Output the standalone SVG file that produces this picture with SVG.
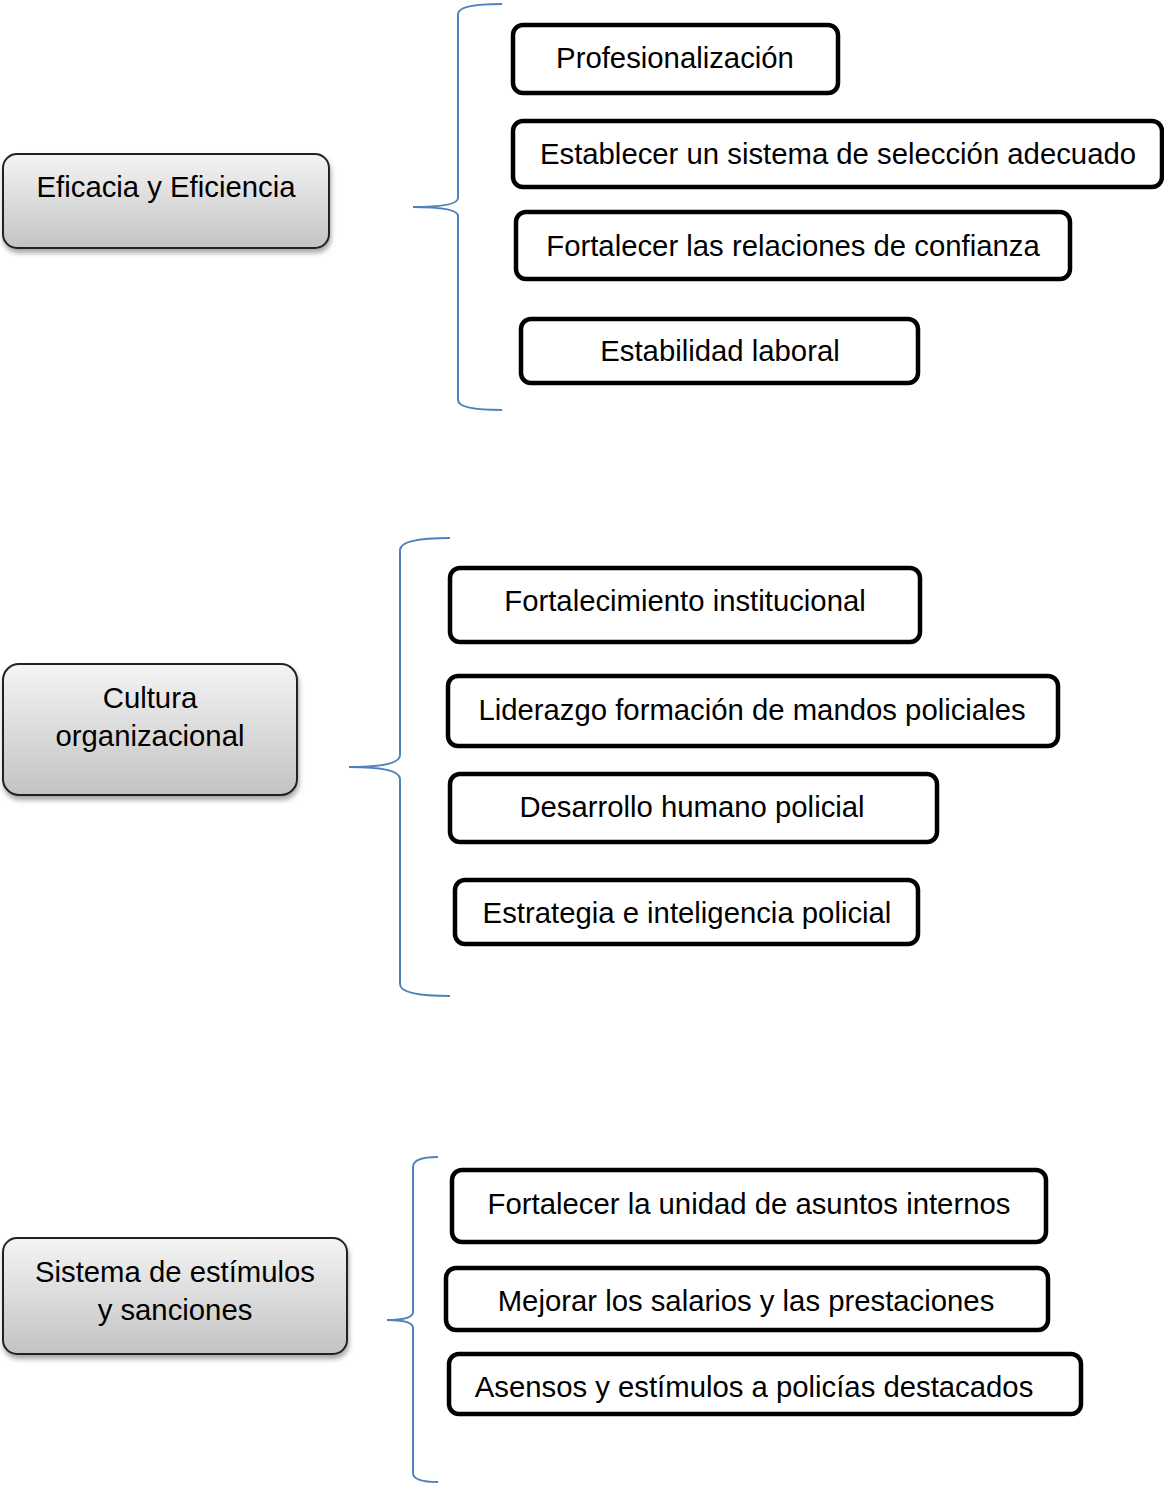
<svg xmlns="http://www.w3.org/2000/svg" width="1164" height="1489" viewBox="0 0 1164 1489">
<defs>
<linearGradient id="g" x1="0" y1="0" x2="0" y2="1">
<stop offset="0" stop-color="#f4f4f4"/>
<stop offset="1" stop-color="#c3c3c3"/>
</linearGradient>
<filter id="sh" x="-10%" y="-10%" width="120%" height="130%">
<feDropShadow dx="1" dy="4" stdDeviation="2.5" flood-color="#000" flood-opacity="0.35"/>
</filter>
</defs>
<style>
text{font-family:"Liberation Sans",Arial,sans-serif;font-size:29.3px;fill:#000;text-anchor:middle}
.main{fill:url(#g);stroke:#222;stroke-width:2;filter:url(#sh)}
.item{fill:#fff;stroke:#000;stroke-width:4.5}
.brace{fill:none;stroke:#4f81bd;stroke-width:2}
</style>
<rect width="1164" height="1489" fill="#fff"/>
<g id="connectors">
<path class="brace" d="M502,4 Q458,4 458,14 L458,198 Q458,207 413,207 Q458,207 458,216 L458,400 Q458,410 502,410"/>
<path class="brace" d="M450,538 Q400,538 400,550 L400,755 Q400,767 349,767 Q400,767 400,779 L400,984 Q400,996 450,996"/>
<path class="brace" d="M438,1157 Q413,1157 413,1167 L413,1312 Q413,1320 387,1320 Q413,1320 413,1328 L413,1473 Q413,1482 438,1482"/>
</g>
<g id="n1"><rect class="main" x="3" y="154" width="326" height="94" rx="14"/><text x="166" y="197">Eficacia y Eficiencia</text></g>
<g id="n2"><rect class="main" x="3" y="664" width="294" height="131" rx="16"/><text x="150" y="708">Cultura</text><text x="150" y="746">organizacional</text></g>
<g id="n3"><rect class="main" x="3" y="1238" width="344" height="116" rx="14"/><text x="175" y="1282">Sistema de estímulos</text><text x="175" y="1320">y sanciones</text></g>
<g id="i1"><rect class="item" x="513" y="25" width="325" height="68" rx="10"/><text x="675" y="68">Profesionalización</text></g>
<g id="i2"><rect class="item" x="513" y="121" width="649" height="66" rx="10"/><text x="838" y="164">Establecer un sistema de selección adecuado</text></g>
<g id="i3"><rect class="item" x="516" y="212" width="554" height="67" rx="10"/><text x="793" y="256">Fortalecer las relaciones de confianza</text></g>
<g id="i4"><rect class="item" x="521" y="319" width="397" height="64" rx="10"/><text x="720" y="361">Estabilidad laboral</text></g>
<g id="i5"><rect class="item" x="450" y="568" width="470" height="74" rx="10"/><text x="685" y="611">Fortalecimiento institucional</text></g>
<g id="i6"><rect class="item" x="448" y="676" width="610" height="70" rx="10"/><text x="752" y="720">Liderazgo formación de mandos policiales</text></g>
<g id="i7"><rect class="item" x="450" y="774" width="487" height="68" rx="10"/><text x="692" y="817">Desarrollo humano policial</text></g>
<g id="i8"><rect class="item" x="455" y="880" width="463" height="64" rx="10"/><text x="687" y="923">Estrategia e inteligencia policial</text></g>
<g id="i9"><rect class="item" x="452" y="1170" width="594" height="72" rx="10"/><text x="749" y="1214">Fortalecer la unidad de asuntos internos</text></g>
<g id="i10"><rect class="item" x="446" y="1268" width="602" height="62" rx="10"/><text x="746" y="1311">Mejorar los salarios y las prestaciones</text></g>
<g id="i11"><rect class="item" x="449" y="1354" width="632" height="60" rx="10"/><text x="754" y="1397">Asensos y estímulos a policías destacados</text></g>
</svg>
